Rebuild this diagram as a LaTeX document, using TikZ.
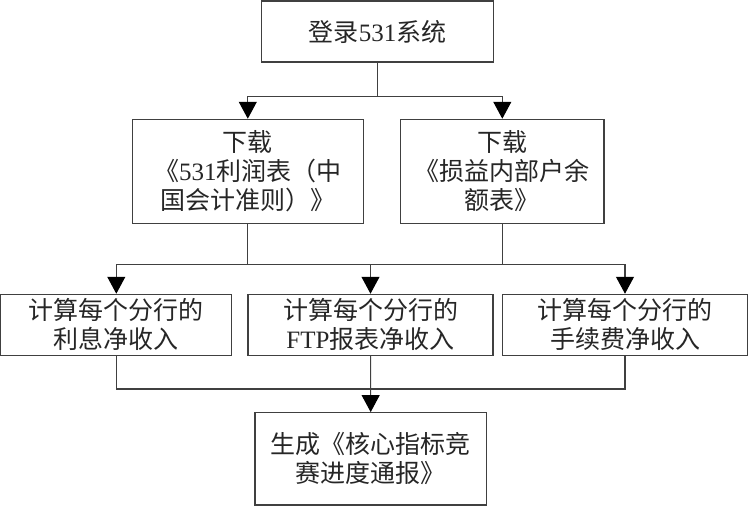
\documentclass[tikz,border=0pt]{standalone}
\usepackage{fontspec}
\setmainfont{Liberation Serif}
\newfontfamily\cjk{Noto Sans CJK SC}
\newcommand{\zh}[1]{{\cjk #1}}
\usetikzlibrary{arrows.meta}
\tikzset{
	box/.style={draw=black!75, line width=1.1pt, text=black!85, align=center, inner sep=0pt, font=\fontsize{25}{29}\selectfont},
	lin/.style={draw=black!75, line width=1.1pt},
	arr/.style={lin, -{Triangle[length=17pt 0, width=18pt 0, color=black]}}
}
\begin{document}
\begin{tikzpicture}[x=1pt, y=-1pt]
	\useasboundingbox (0,0) rectangle (748,506);
	\node[box, minimum width=231.6pt, minimum height=61pt] (login) at (377.5,31.5) {\zh{登录}531\zh{系统}};
	\node[box, minimum width=231pt, minimum height=104pt] (dlprofit) at (247.8,171.3) {\zh{下载}\\\zh{《}531\zh{利润表（中}\\\zh{国会计准则）》}};
	\node[box, minimum width=203.3pt, minimum height=104pt] (dlbal) at (502.3,171.3) {\zh{下载}\\\zh{《损益内部户余}\\\zh{额表》}};
	\node[box, minimum width=231pt, minimum height=61pt] (netint) at (116.3,324.8) {\zh{计算每个分行的}\\\zh{利息净收入}};
	\node[box, minimum width=245pt, minimum height=61pt] (netftp) at (370.5,324.8) {\zh{计算每个分行的}\\FTP\zh{报表净收入}};
	\node[box, minimum width=244.6pt, minimum height=61pt] (netfee) at (625,324.8) {\zh{计算每个分行的}\\\zh{手续费净收入}};
	\node[box, minimum width=231.7pt, minimum height=92.3pt] (report) at (370.8,458.8) {\zh{生成《核心指标竞}\\\zh{赛进度通报》}};
	\coordinate (split1) at (377.5,96.7);
	\coordinate (split2) at (370.5,264.7);
	\coordinate (merge) at (370.5,389);
	\draw[lin] (login) -- (split1);
	\draw[arr] (split1) -| (dlprofit);
	\draw[arr] (split1) -| (dlbal);
	\draw[lin] (dlprofit) |- (split2);
	\draw[lin] (dlbal) |- (split2);
	\draw[arr] (split2) -| (netint);
	\draw[arr] (split2) -- (netftp);
	\draw[arr] (split2) -| (netfee);
	\draw[lin] (netint) |- (merge) -| (netfee);
	\draw[arr] (netftp) -- (report);
\end{tikzpicture}
\end{document}
